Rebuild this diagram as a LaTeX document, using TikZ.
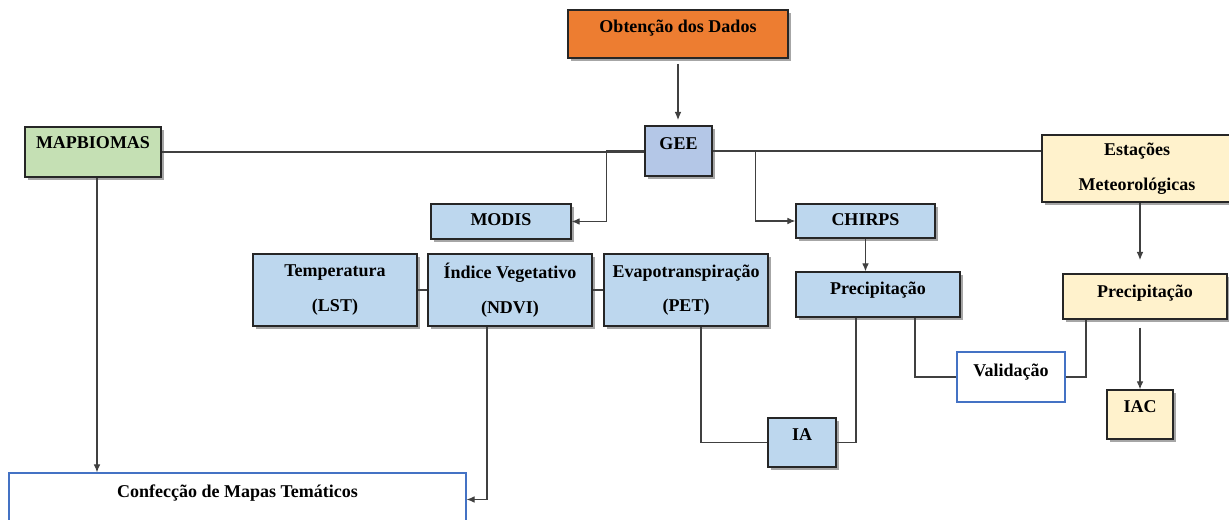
\documentclass[tikz,border=0pt]{standalone}
\usepackage{fontspec}
\setmainfont{Liberation Serif}
\usetikzlibrary{arrows.meta}
\usetikzlibrary{shadows}
\usetikzlibrary{calc}
\definecolor{laranja}{HTML}{ED7D31}
\definecolor{azulgee}{HTML}{B4C7E7}
\definecolor{azul}{HTML}{BDD7EE}
\definecolor{verde}{HTML}{C5E0B4}
\definecolor{creme}{HTML}{FFF2CC}
\definecolor{borda}{HTML}{4472C4}
\tikzstyle{caixa}=[draw=black!85, line width=1pt, inner sep=0pt, align=center, font=\fontsize{13.5pt}{26pt}\selectfont\bfseries, drop shadow={shadow xshift=2pt, shadow yshift=-2pt, opacity=0.35, fill=black}]
\tikzstyle{caixab}=[draw=borda, line width=0.9pt, fill=white, inner sep=0pt, align=center, font=\fontsize{13.5pt}{26pt}\selectfont\bfseries]
\tikzstyle{liga}=[draw=black!75, line width=0.8pt]
\tikzstyle{seta}=[liga, -{Latex[length=6pt,width=5pt]}]
\tikzset{wh/.style 2 args={minimum width=#1*0.75pt, minimum height=#2*0.75pt},
  lift/.style={text height=9pt, text depth=#1pt}}

\begin{document}
\begin{tikzpicture}[x=0.75pt, y=-0.75pt]
    \path[use as bounding box] (0,0) rectangle (1229,520);
    \clip (0,0) rectangle (1229,520);
    % caixas
    \node[caixa, fill=laranja, wh={220}{48}, lift=10.9] (obt) at (678,34) {Obtenção dos Dados};
    \node[caixa, fill=azulgee, wh={67}{50}, lift=11.6] (gee) at (678.5,151) {GEE};
    \node[caixa, fill=verde, wh={136}{50}, lift=13.9] (mapb) at (93,152) {MAPBIOMAS};
    \node[caixa, fill=creme, wh={190}{67}] (estac) at (1137,168.5) {Estações\\Meteorológicas};
    \node[caixa, fill=azul, wh={140}{35}, lift=2.6] (modis) at (501,221.5) {MODIS};
    \node[caixa, fill=azul, wh={139}{34}, lift=2] (chirps) at (865.5,221) {CHIRPS};
    \node[caixa, fill=azul, wh={164}{72}] (temp) at (335,290) {Temperatura\\(LST)};
    \node[caixa, fill=azul, wh={164}{72}] (ndvi) at (510,290) {Índice Vegetativo\\(NDVI)};
    \node[caixa, fill=azul, wh={164}{72}] (pet) at (686,290) {Evapotranspiração\\(PET)};
    \node[caixa, fill=azul, wh={164}{45}, lift=8.6] (prec1) at (878,294.5) {Precipitação};
    \node[caixa, fill=creme, wh={164}{45}, lift=7.2] (prec2) at (1145,296.5) {Precipitação};
    \node[caixab, wh={108}{50}, lift=9.4] (valid) at (1011,377) {Validação};
    \node[caixa, fill=azul, wh={68}{49}, lift=11.6] (ia) at (802,442.5) {IA};
    \node[caixa, fill=creme, wh={66}{49}, lift=11.6] (iac) at (1140,414.5) {IAC};
    \node[caixab, wh={457}{53}, lift=11.6] (confec) at (237.5,499.5) {Confecção de Mapas Temáticos};
    \coordinate (m1) at ($(mapb.south)+(4,0)$);
    % ligacoes
    \draw[seta, shorten <=4pt, shorten >=4pt] (obt.south) -- (obt.south |- gee.north);
    \draw[liga] (mapb.east) -- (mapb.east -| gee.west);
    \draw[seta] (gee.west) -- ++(-38,0) |- (modis.east);
    \draw[seta] (gee.east) -- ++(43,0) |- (chirps.west);
    \draw[liga] (gee.east) -- (gee.east -| estac.west);
    \draw[seta, shorten >=10pt] (estac.south -| iac) -- (prec2.north -| iac);
    \draw[seta] (chirps.south) -- (chirps.south |- prec1.north);
    \draw[liga] (temp) -- (ndvi);
    \draw[liga] (ndvi) -- (pet);
    \draw[seta] ($(ndvi.south)+(-23,0)$) |- (confec.east);
    \draw[seta] (m1) -- (m1 |- confec.north);
    \draw[liga] ($(pet.south)+(15,0)$) |- (ia.west);
    \draw[liga] ($(prec1.south)+(-22,0)$) |- (ia.east);
    \draw[liga] ($(prec1.south)+(37,0)$) |- (valid.west);
    \draw[liga] ($(prec2.south)+(-59,0)$) |- (valid.east);
    \draw[seta, shorten <=6pt] (prec2.south -| iac) -- (iac.north);
\end{tikzpicture}
\end{document}
